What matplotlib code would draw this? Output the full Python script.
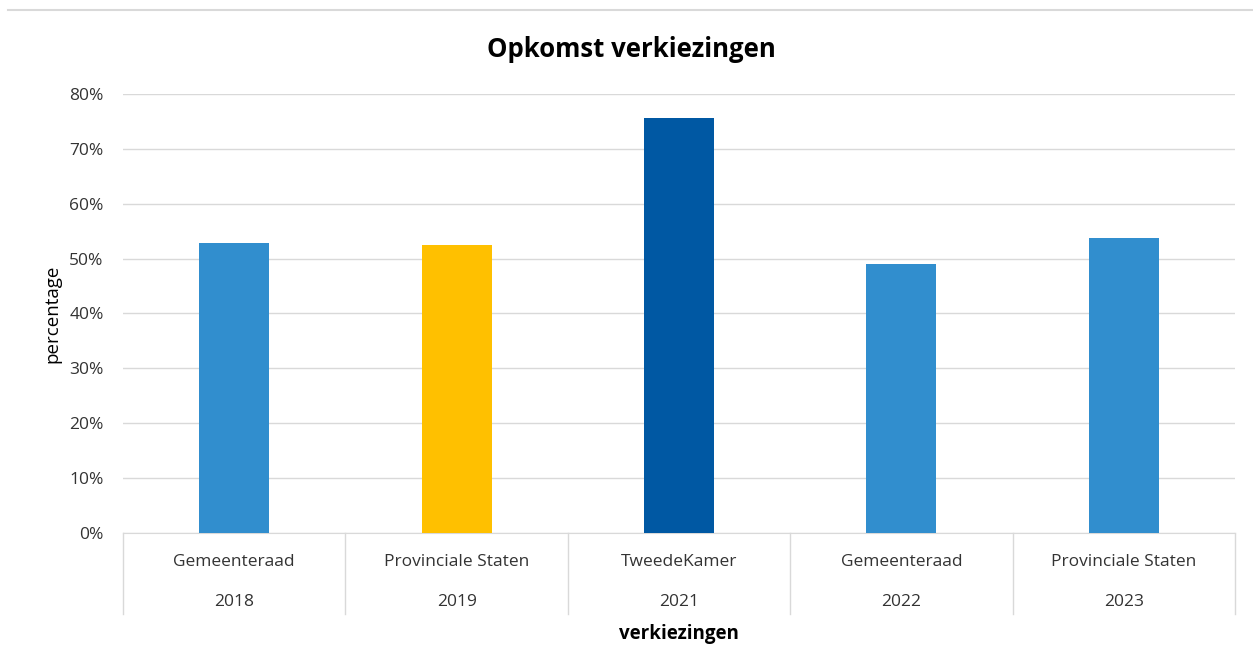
import matplotlib.pyplot as plt
import matplotlib.transforms as mtransforms
from matplotlib.lines import Line2D
from matplotlib.ticker import PercentFormatter

# data
verkiezing = ["Gemeenteraad", "Provinciale Staten", "TweedeKamer", "Gemeenteraad", "Provinciale Staten"]
jaar = ["2018", "2019", "2021", "2022", "2023"]
opkomst = [52.9, 52.5, 75.7, 49.0, 53.8]
kleuren = ["#318ECE", "#FFC000", "#0058A3", "#318ECE", "#318ECE"]

plt.rcParams['font.family'] = ['Open Sans', 'DejaVu Sans']
tekst = '#333333'

fig = plt.figure(figsize=(12.53, 6.66), dpi=100)
ax = fig.add_axes([0.0982, 0.1997, 0.8874, 0.6592])

x = list(range(len(opkomst)))
ax.bar(x, opkomst, width=0.315, color=kleuren, zorder=3)

ax.set_xlim(-0.5, len(opkomst) - 0.5)
ax.set_ylim(0, 80)
ax.set_yticks(range(0, 81, 10))
ax.yaxis.set_major_formatter(PercentFormatter(decimals=0))
ax.grid(axis='y', color='#D9D9D9', linewidth=1, zorder=0)
ax.tick_params(axis='y', length=0, labelsize=12.5, colors=tekst, pad=14)
ax.set_xticks([])
for s in ['top', 'right', 'left']:
    ax.spines[s].set_visible(False)
ax.spines['bottom'].set_color('#D9D9D9')

# category axis: two rows of labels with separators
trans = mtransforms.blended_transform_factory(ax.transData, ax.transAxes)
for i in x:
    ax.text(i, -0.066, verkiezing[i], transform=trans, ha='center', va='center',
            fontsize=12.5, color=tekst)
    ax.text(i, -0.158, jaar[i], transform=trans, ha='center', va='center',
            fontsize=12.5, color=tekst)
for b in [i - 0.5 for i in x] + [len(x) - 0.5]:
    ax.plot([b, b], [0, -0.185], transform=trans, color='#D9D9D9',
            linewidth=1, clip_on=False)

fig.text(0.504, 0.926, "Opkomst verkiezingen", ha='center', va='center',
         fontsize=18.5, fontweight='bold')
ax.text(0.5, -0.23, "verkiezingen", transform=ax.transAxes, ha='center',
        va='center', fontsize=13.5, fontweight='bold')
ax.set_ylabel("percentage", fontsize=13.5, labelpad=6)

fig.add_artist(Line2D([0.006, 1.0], [0.985, 0.985], color='#D9D9D9', linewidth=1.5))

fig.savefig("out.png", dpi=100)
